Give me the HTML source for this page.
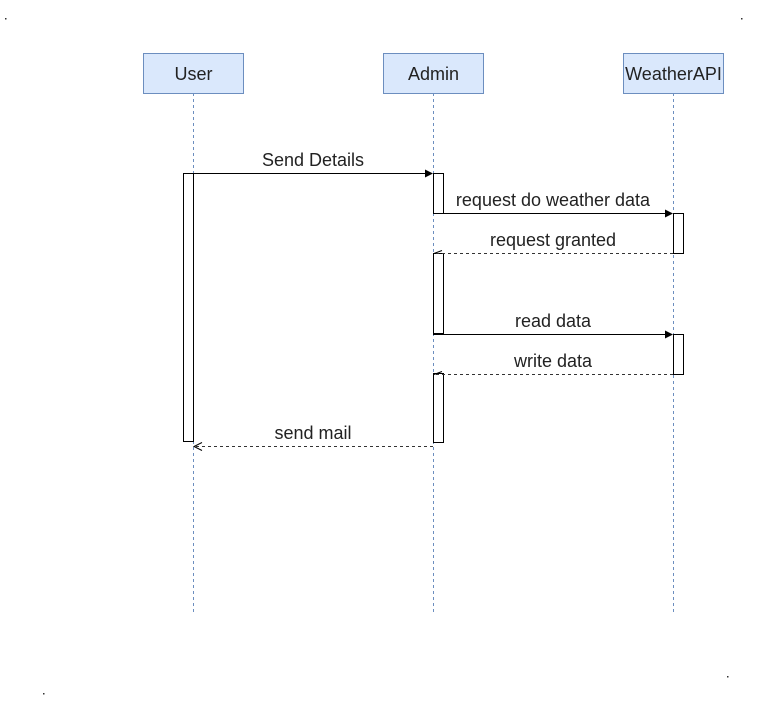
<!DOCTYPE html>
<html><head><style>body{margin:0;background:#fff}svg{display:block}</style></head><body>
<svg width="759" height="703" xmlns="http://www.w3.org/2000/svg" font-family="Liberation Sans, Arial, sans-serif" font-size="18" fill="#222">
<g fill="#333"><rect x="5" y="18" width="1.5" height="1.5"/><rect x="741" y="18" width="1.5" height="1.5"/><rect x="727" y="676" width="1.5" height="1.5"/><rect x="43" y="693" width="1.5" height="1.5"/></g>
<g stroke="#6c8ebf" stroke-dasharray="3,3" stroke-width="1"><line x1="193.5" y1="93" x2="193.5" y2="613"/><line x1="433.5" y1="93" x2="433.5" y2="613"/><line x1="673.5" y1="93" x2="673.5" y2="613"/></g>
<g fill="#dae8fc" stroke="#6c8ebf"><rect x="143.5" y="53.5" width="100" height="40"/><rect x="383.5" y="53.5" width="100" height="40"/><rect x="623.5" y="53.5" width="100" height="40"/></g>
<g text-anchor="middle"><text x="193.5" y="80">User</text><text x="433.5" y="80">Admin</text><text x="673.5" y="80">WeatherAPI</text></g>
<g fill="#fff" stroke="#000"><rect x="183.5" y="173.5" width="10" height="268"/><rect x="433.5" y="173.5" width="10" height="40"/><rect x="433.5" y="253.5" width="10" height="80"/><rect x="433.5" y="373.5" width="10" height="69"/><rect x="673.5" y="213.5" width="10" height="40"/><rect x="673.5" y="334.5" width="10" height="40"/></g>
<g stroke="#000" fill="none">
<line x1="193" y1="173.5" x2="426" y2="173.5"/><line x1="443" y1="213.5" x2="666" y2="213.5"/><line x1="433" y1="334.5" x2="666" y2="334.5"/>
<g stroke-dasharray="3,3" stroke="#333"><line x1="673" y1="253.5" x2="435" y2="253.5"/><line x1="673" y1="374.5" x2="435" y2="374.5"/><line x1="433" y1="446.5" x2="195" y2="446.5"/></g>
<path d="M442 250.5 L434 253.5 M442 371.5 L434 374.5 M202 442.5 L194 446.5 L202 450.5"/>
</g>
<g fill="#000"><path d="M433 173.5 L425 169.5 L425 177.5Z"/><path d="M673 213.5 L665 209.5 L665 217.5Z"/><path d="M673 334.5 L665 330.5 L665 338.5Z"/></g>
<g text-anchor="middle"><text x="313" y="166">Send Details</text><text x="553" y="206">request do weather data</text><text x="553" y="246">request granted</text><text x="553" y="327">read data</text><text x="553" y="367">write data</text><text x="313" y="439">send mail</text></g>
</svg>
</body></html>
